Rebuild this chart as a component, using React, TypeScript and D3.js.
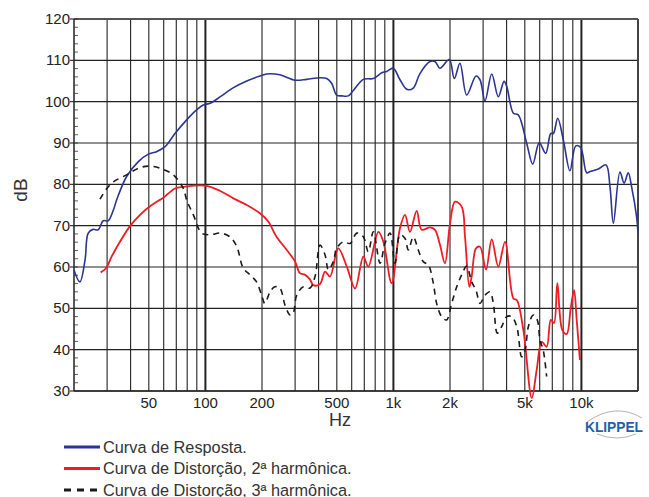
import { useEffect } from "react";
import * as d3 from "d3";

const W = 649;
const H = 497;

// frequency response, Hz / dB
const respFreq = [20, 21.5, 22.9, 23.8, 25.3, 26.9, 28.6, 30.4, 32.4, 33.7, 38.1, 44, 49.7, 55, 61, 68.9, 79.5, 89.8, 97.4, 106, 120, 141, 166, 195, 212, 249, 300, 346, 407, 442, 470, 499, 531, 575, 612, 692, 782, 867, 921, 998, 1084, 1178, 1276, 1384, 1566, 1664, 1770, 1982, 2108, 2260, 2454, 2750, 2888, 3072, 3334, 3614, 3876, 4006, 4346, 4614, 5118, 5508, 5970, 6456, 6872, 7096, 7482, 8018, 8690, 9332, 9910, 10666, 11118, 12304, 13522, 14192, 14792, 16034, 16866, 17744, 18494, 19678, 20000];
const respDb = [59.3, 56.4, 61.7, 68.2, 69.1, 69.0, 71.2, 71.2, 73.8, 76.2, 81.9, 85.5, 87.3, 87.9, 89.1, 92.3, 95.6, 98.0, 99.2, 99.6, 101.2, 103.4, 105.0, 106.2, 106.7, 106.5, 105.2, 105.4, 105.8, 105.6, 104.4, 101.6, 101.4, 101.4, 102.7, 105.4, 105.6, 107.0, 107.3, 108.1, 105.3, 103.0, 103.3, 106.8, 109.7, 109.7, 108.1, 110.2, 105.6, 109.3, 101.6, 106.2, 105.3, 100.2, 106.7, 101.2, 104.9, 103.7, 97.2, 96.8, 89.9, 84.9, 90.1, 87.5, 92.3, 92.3, 96.0, 90.7, 83.3, 89.3, 88.9, 82.8, 83.1, 83.7, 84.7, 79.4, 70.6, 83.0, 80.3, 82.8, 79.4, 72.0, 68.2];

// 2nd harmonic distortion
const h2Freq = [27.7, 29.6, 31.7, 35.1, 39.7, 44.9, 49.7, 55.1, 59.5, 68.9, 76.3, 99.4, 120, 141, 166, 195, 216, 239, 271, 300, 318, 339, 360, 375, 407, 433, 460, 509, 565, 625, 692, 735, 832, 884, 979, 1084, 1153, 1225, 1330, 1413, 1566, 1664, 1770, 1880, 2000, 2128, 2308, 2404, 2535, 2608, 2750, 2888, 3109, 3334, 3614, 3924, 4346, 4530, 4910, 5444, 5782, 6152, 6532, 6872, 7146, 7448, 7910, 8356, 8770, 9140, 9440, 9820];
const h2Db = [58.7, 59.7, 62.5, 66.1, 69.9, 72.6, 74.4, 75.8, 76.7, 79.0, 79.4, 79.7, 78.4, 76.6, 75.0, 73.0, 71.0, 67.3, 64.1, 61.3, 58.5, 58.1, 57.0, 55.6, 55.9, 58.9, 57.7, 64.5, 60.1, 54.8, 62.5, 60.1, 68.5, 66.1, 56.1, 69.4, 72.6, 68.5, 73.6, 69.0, 69.6, 69.0, 65.3, 60.9, 70.5, 75.8, 74.6, 67.3, 55.2, 57.7, 64.5, 64.9, 59.4, 66.7, 60.1, 66.1, 52.4, 52.0, 44.8, 28.3, 35.1, 41.9, 40.7, 47.2, 46.4, 56.1, 44.8, 43.8, 50.0, 54.4, 47.2, 37.5];

// 3rd harmonic distortion
const h3Freq = [27.5, 29.9, 32.4, 38.1, 44, 49.7, 57.3, 67.5, 76.3, 79.5, 86.3, 95.5, 106, 120, 135, 147, 159, 173, 187, 199, 207, 221, 234, 249, 265, 282, 293, 306, 332, 360, 383, 407, 433, 451, 479, 499, 541, 588, 638, 692, 735, 782, 849, 902, 960, 1019, 1084, 1153, 1200, 1276, 1356, 1442, 1534, 1630, 1698, 1806, 1918, 2042, 2172, 2308, 2454, 2608, 2750, 2888, 3072, 3266, 3400, 3570, 3768, 4006, 4256, 4530, 4812, 5012, 5224, 5546, 5822, 6026, 6266, 6532];
const h3Db = [76.4, 79.0, 80.6, 82.3, 83.9, 84.4, 83.9, 82.3, 79.0, 76.2, 72.6, 68.2, 67.8, 68.2, 67.3, 64.9, 59.7, 58.1, 56.4, 53.2, 51.2, 54.0, 55.2, 54.9, 50.8, 48.4, 48.8, 53.2, 55.2, 54.9, 57.7, 65.3, 62.9, 59.3, 61.3, 64.5, 66.1, 65.7, 68.2, 67.3, 63.7, 68.5, 60.9, 65.7, 68.2, 60.9, 67.8, 66.9, 64.1, 67.3, 64.1, 61.3, 60.5, 56.1, 51.2, 48.0, 47.2, 51.2, 55.2, 58.1, 60.2, 56.4, 54.4, 51.2, 53.2, 54.0, 51.2, 44.0, 45.6, 48.0, 48.0, 45.6, 38.3, 39.9, 45.6, 48.4, 47.2, 42.3, 39.9, 33.5];

const gridFreqs = [30, 40, 50, 60, 70, 80, 90, 100, 200, 300, 400, 500, 600, 700, 800, 900, 1000, 2000, 3000, 4000, 5000, 6000, 7000, 8000, 9000, 10000];
const decadeFreqs = [100, 1000, 10000];
const xLabelFreqs = [50, 100, 200, 500, 1000, 2000, 5000, 10000];
const xLabels = ["50", "100", "200", "500", "1k", "2k", "5k", "10k"];
const yTicks = [30, 40, 50, 60, 70, 80, 90, 100, 110, 120];

const legendNames = [
  "Curva de Resposta.",
  "Curva de Distorção, 2ª harmônica.",
  "Curva de Distorção, 3ª harmônica.",
];
const colors = ["#2b3590", "#ee1c24", "#1a1a1a"];

const FONT = "'Liberation Sans', Arial, sans-serif";

export default function App() {
  useEffect(() => {
    document.body.style.margin = "0";
  }, []);

  const left = 74;
  const right = 638;
  const top = 19;
  const bottom = 391;

  const x = d3.scaleLog().domain([20, 20000]).range([left, right]);
  const y = d3.scaleLinear().domain([30, 120]).range([bottom, top]);

  const line = d3
    .line<[number, number]>()
    .x((d) => x(d[0]))
    .y((d) => y(d[1]))
    .curve(d3.curveCatmullRom.alpha(0.5));

  const series = [
    { f: respFreq, v: respDb, color: colors[0], width: 1.6, dash: undefined },
    { f: h2Freq, v: h2Db, color: colors[1], width: 1.8, dash: undefined },
    { f: h3Freq, v: h3Db, color: colors[2], width: 1.6, dash: "6 5" },
  ];

  const minorTicks = d3.range(30, 121, 2);

  return (
    <svg
      width={W}
      height={H}
      style={{ position: "absolute", left: 0, top: 0, background: "#fff" }}
      fontFamily={FONT}
    >
      {/* horizontal grid */}
      {yTicks.map((t) => (
        <line key={"h" + t} x1={left} x2={right} y1={y(t)} y2={y(t)} stroke="#222" strokeWidth={1.1} />
      ))}
      {/* vertical grid */}
      {gridFreqs.map((f) => (
        <line
          key={"v" + f}
          x1={x(f)}
          x2={x(f)}
          y1={top}
          y2={bottom}
          stroke="#222"
          strokeWidth={decadeFreqs.includes(f) ? 2 : 1.1}
        />
      ))}
      {/* frame */}
      <line x1={left} x2={right} y1={top} y2={top} stroke="#555" strokeWidth={2} />
      <line x1={right} x2={right} y1={top} y2={bottom} stroke="#444" strokeWidth={2} />
      <line x1={left} x2={right} y1={bottom} y2={bottom} stroke="#222" strokeWidth={1.5} />
      <line x1={left} x2={left} y1={top} y2={bottom} stroke="#222" strokeWidth={1.5} />
      {minorTicks.map((t) => (
        <line key={"m" + t} x1={left} x2={left + 4} y1={y(t)} y2={y(t)} stroke="#333" strokeWidth={0.8} />
      ))}
      {yTicks.map((t) => (
        <g key={"yt" + t}>
          <line x1={left - 4} x2={left} y1={y(t)} y2={y(t)} stroke="#222" strokeWidth={1.1} />
          <text x={left - 4} y={y(t) + 5} textAnchor="end" fontSize={15} fill="#222">
            {t}
          </text>
        </g>
      ))}
      {xLabelFreqs.map((f, i) => (
        <text key={"xl" + f} x={x(f)} y={408} textAnchor="middle" fontSize={15} fill="#222">
          {xLabels[i]}
        </text>
      ))}
      <text x={340} y={426} textAnchor="middle" fontSize={18} fill="#333">
        Hz
      </text>
      <text
        transform={`translate(27, ${190}) rotate(-90)`}
        textAnchor="middle"
        fontSize={19}
        fill="#333"
      >
        dB
      </text>

      {/* curves */}
      {series.map((s, i) => (
        <path
          key={"s" + i}
          d={line(s.f.map((f, j) => [f, s.v[j]] as [number, number])) || ""}
          fill="none"
          stroke={s.color}
          strokeWidth={s.width}
          strokeDasharray={s.dash}
          strokeLinejoin="round"
        />
      ))}

      {/* legend */}
      {legendNames.map((name, i) => (
        <g key={"lg" + i} transform={`translate(0, ${447 + i * 21.5})`}>
          <line
            x1={64}
            x2={100}
            y1={0}
            y2={0}
            stroke={colors[i]}
            strokeWidth={3}
            strokeDasharray={i === 2 ? "7 6" : undefined}
          />
          <text x={103} y={5.5} fontSize={16.3} fill="#333">
            {name}
          </text>
        </g>
      ))}

      {/* KLIPPEL mark */}
      <g>
        <path d="M 587 422 Q 615 402 642 418" fill="none" stroke="#a0a0a0" strokeWidth={0.8} />
        <path d="M 597 434 Q 617 442 636 434" fill="none" stroke="#a0a0a0" strokeWidth={0.8} />
        <text
          x={585}
          y={432}
          fontSize={14.5}
          fontWeight="bold"
          fill="#2460a8"
          textLength={58}
          lengthAdjust="spacingAndGlyphs"
        >
          KLIPPEL
        </text>
      </g>
    </svg>
  );
}
